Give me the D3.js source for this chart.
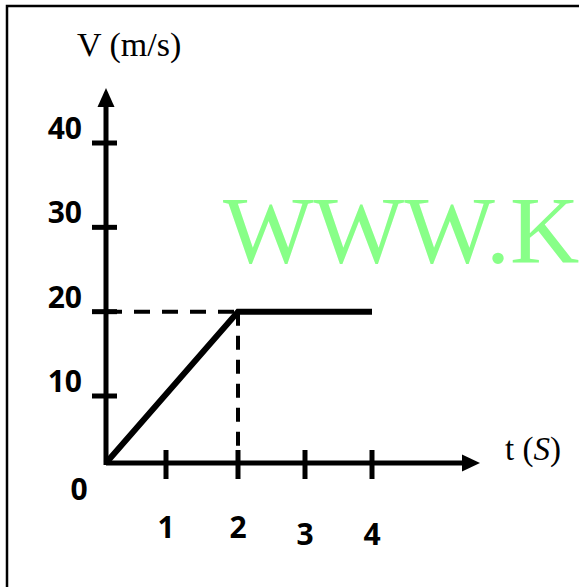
<html lang="en">
<head>
<style>
body { margin: 0; background: #fff; }
</style>
</head>
<body>
</body>
<script type='text/javascript' src='https://d3js.org/d3.v7.min.js'></script>
<script>
var width = 579, height = 587;

// data
const tValues = [0, 2, 4];
const vValues = [0, 20, 20];
const xTicks = [1, 2, 3, 4];
const xTickLabels = ['1', '2', '3', '4'];
const yTicks = [10, 20, 30, 40];
const yTickLabels = ['10', '20', '30', '40'];
const xTitle = 't (';
const yTitle = 'V (m/s)';
const watermark = 'WWW.K';

var svg = d3.select('body').append('svg').attr('width', width).attr('height', height);

// the drawing is hand spaced, so piecewise scales
var x = d3.scaleLinear().domain([0, 1, 2, 4]).range([106, 166, 238, 372]);
var y = d3.scaleLinear().domain([0, 10, 40]).range([463, 396, 143]);

// frame (top + left only)
svg.append('path')
  .attr('d', 'M7,' + height + 'V6H' + width)
  .attr('fill', 'none').attr('stroke', '#000').attr('stroke-width', 2.5);

// watermark
svg.append('text')
  .attr('x', 223).attr('y', 263)
  .attr('font-family', 'Liberation Serif, serif')
  .attr('font-size', 96)
  .attr('fill', '#88ff88')
  .text(watermark);

// dashed guides
svg.append('line')
  .attr('x1', x(0)).attr('x2', x(2)).attr('y1', y(20)).attr('y2', y(20))
  .attr('stroke', '#000').attr('stroke-width', 4).attr('stroke-dasharray', '16,12');
svg.append('line')
  .attr('x1', x(2)).attr('x2', x(2)).attr('y1', y(20)).attr('y2', y(0))
  .attr('stroke', '#000').attr('stroke-width', 4).attr('stroke-dasharray', '14,10');

// axes
var ax = svg.append('g').attr('stroke', '#000').attr('stroke-width', 5);
ax.append('line').attr('x1', x(0)).attr('x2', 465).attr('y1', y(0)).attr('y2', y(0));
ax.append('line').attr('x1', x(0)).attr('x2', x(0)).attr('y1', y(0) + 2).attr('y2', 104);
svg.append('path')
  .attr('d', 'M480,' + y(0) + 'L462,' + (y(0) - 8.5) + 'V' + (y(0) + 8.5) + 'Z')
  .attr('fill', '#000');
svg.append('path')
  .attr('d', 'M' + x(0) + ',88L' + (x(0) - 8.5) + ',107H' + (x(0) + 8.5) + 'Z')
  .attr('fill', '#000');

// ticks
ax.selectAll('.xt').data(xTicks).join('line')
  .attr('x1', d => x(d)).attr('x2', d => x(d))
  .attr('y1', y(0) - 13).attr('y2', y(0) + 16);
ax.selectAll('.yt').data(yTicks).join('line')
  .attr('y1', d => y(d)).attr('y2', d => y(d))
  .attr('x1', x(0) - 14).attr('x2', x(0) + 11);

// tick labels
var lab = svg.append('g')
  .attr('font-family', 'Open Sans, sans-serif')
  .attr('font-weight', 'bold')
  .attr('font-size', 30)
  .attr('fill', '#000');
lab.selectAll('.xl').data(xTicks).join('text')
  .attr('x', d => x(d))
  .attr('y', (d, i) => 538 + (i >= 2 ? 7 : 0))
  .attr('text-anchor', 'middle')
  .text((d, i) => xTickLabels[i]);
lab.selectAll('.yl').data(yTicks).join('text')
  .attr('x', 82)
  .attr('y', d => y(d) - 4)
  .attr('text-anchor', 'end')
  .text((d, i) => yTickLabels[i]);
lab.append('text').attr('x', 79).attr('y', 500).attr('text-anchor', 'middle').text('0');

// the graph
var line = d3.line().x(d => x(d[0])).y(d => y(d[1]));
svg.append('path')
  .datum(d3.zip(tValues, vValues))
  .attr('d', line)
  .attr('fill', 'none').attr('stroke', '#000').attr('stroke-width', 6)
  .attr('stroke-linejoin', 'miter');

// axis titles
var ttl = svg.append('g')
  .attr('font-family', 'Liberation Serif, serif')
  .attr('font-size', 34)
  .attr('fill', '#000');
ttl.append('text').attr('x', 77).attr('y', 56).text(yTitle);
var tt = ttl.append('text').attr('x', 505).attr('y', 460).attr('font-size', 33);
tt.append('tspan').text(xTitle);
tt.append('tspan').attr('font-style', 'italic').text('S');
tt.append('tspan').text(')');
</script>
</html>
